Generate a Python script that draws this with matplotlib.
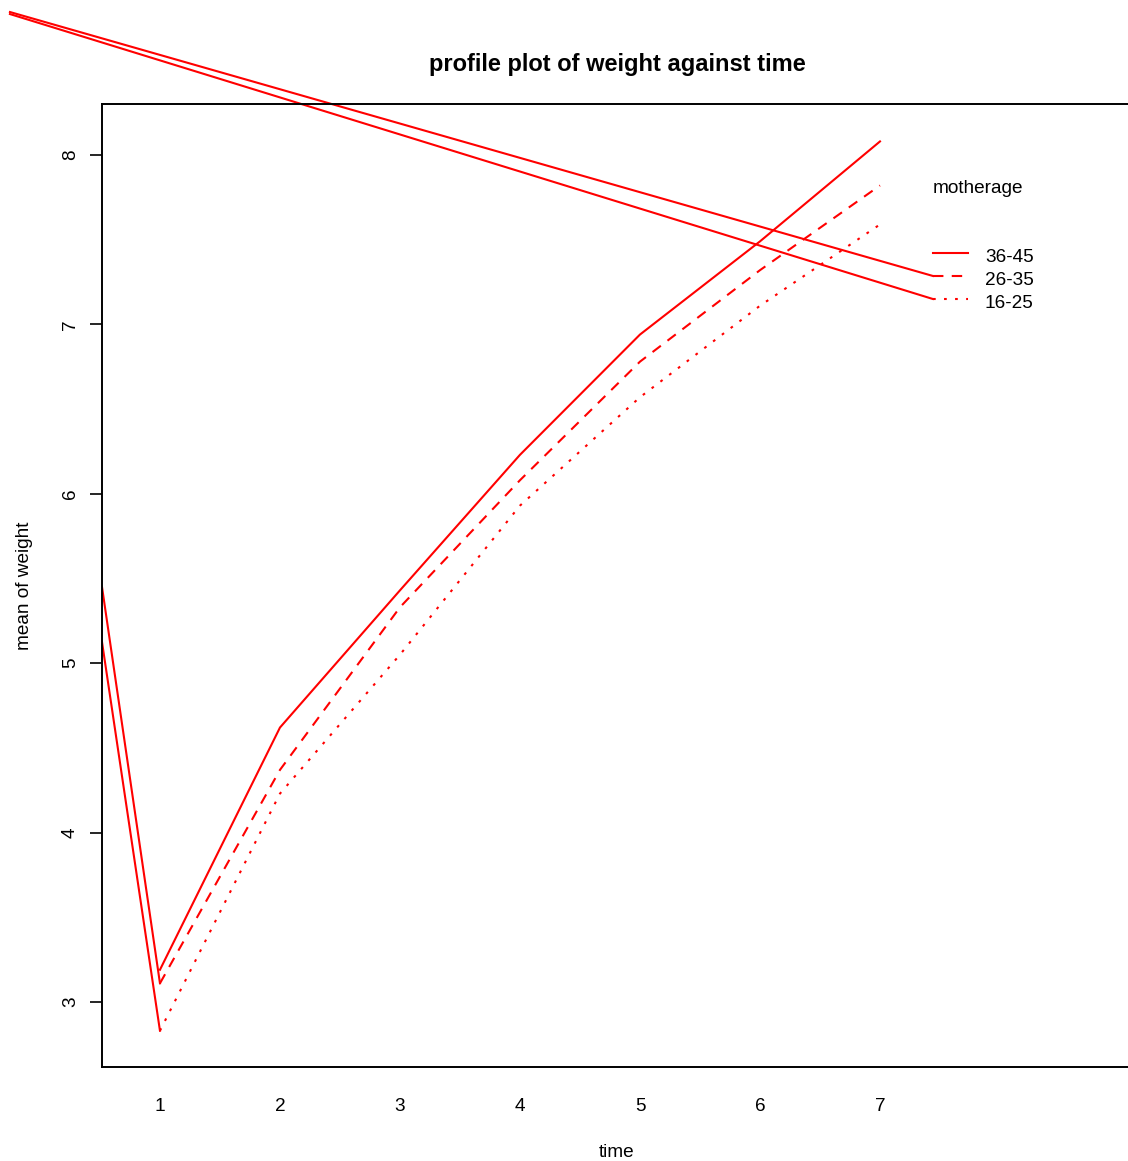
import numpy as np
import matplotlib
matplotlib.use('Agg')
import matplotlib.pyplot as plt

plt.rcParams['font.family'] = ['Liberation Sans', 'DejaVu Sans']

# mean weight per time point, one list per mother age group
time = [1, 2, 3, 4, 5, 6, 7]
w_3645 = [3.19, 4.62, 5.43, 6.23, 6.94, 7.49, 8.08]
w_2635 = [3.11, 4.37, 5.33, 6.08, 6.78, 7.32, 7.82]
w_1625 = [2.83, 4.23, 5.05, 5.93, 6.57, 7.11, 7.59]

groups = ['36-45', '26-35', '16-25']
styles = ['-', (0, (5, 4)), (0, (1.3, 4))]

# stray segments of the original plot (26-35 and 16-25 only)
left_x = [0.517, 0.517]
left_y = [5.45, 5.125]
corner_x = [-0.25, -0.25]
corner_y = [8.844, 8.832]

# legend layout (data coords)
leg_x0, leg_x1 = 7.44, 7.73
leg_y = [7.421, 7.286, 7.150]

fig = plt.figure(figsize=(11.28, 11.61), dpi=100)
ax = fig.add_axes([102/1128, 1 - 1067/1161, 1030/1128, 963/1161])

series = [w_3645, w_2635, w_1625]
for vals, ls in zip(series, styles):
    ax.plot(time, vals, color='red', lw=1.5, linestyle=ls)

# clipped lines entering from the left edge
for i in range(2):
    ax.plot([left_x[i], time[0]], [left_y[i], series[i + 1][0]], color='red', lw=1.5)
    # unclipped lines from the figure corner to the legend
    ax.plot([corner_x[i], leg_x0], [corner_y[i], leg_y[i + 1]], color='red', lw=1.5,
            clip_on=False)

fs = 13.7
# legend
ax.text(leg_x0, 7.805, 'motherage', fontsize=fs, va='center', ha='left')
for g, ls, y in zip(groups, styles, leg_y):
    ax.plot([leg_x0, leg_x1], [y, y], color='red', lw=1.5, linestyle=ls)
    ax.text(7.875, y - 0.025, g, fontsize=fs, va='center', ha='left')

ax.set_xlim(0.517, 9.1)
ax.set_ylim(2.616, 8.301)
ax.set_xticks(time)
ax.set_yticks([3, 4, 5, 6, 7, 8])
ax.tick_params(axis='x', length=0, pad=22, labelsize=fs)
ax.tick_params(axis='y', length=8.5, width=1.2, pad=8, labelsize=fs)
for lab in ax.get_yticklabels():
    lab.set_rotation(90)
    lab.set_va('center')
for s in ax.spines.values():
    s.set_linewidth(1.4)

ax.set_xlabel('time', fontsize=fs)
ax.set_ylabel('mean of weight', fontsize=fs)
ax.xaxis.set_label_coords(0.5, -0.0883)
ax.xaxis.label.set_va('center')
ax.yaxis.set_label_coords(-0.0748, 0.4995)
ax.yaxis.label.set_va('center')
ax.set_title('profile plot of weight against time', fontsize=17, fontweight='bold', pad=24)

plt.savefig('out.png', dpi=100)
